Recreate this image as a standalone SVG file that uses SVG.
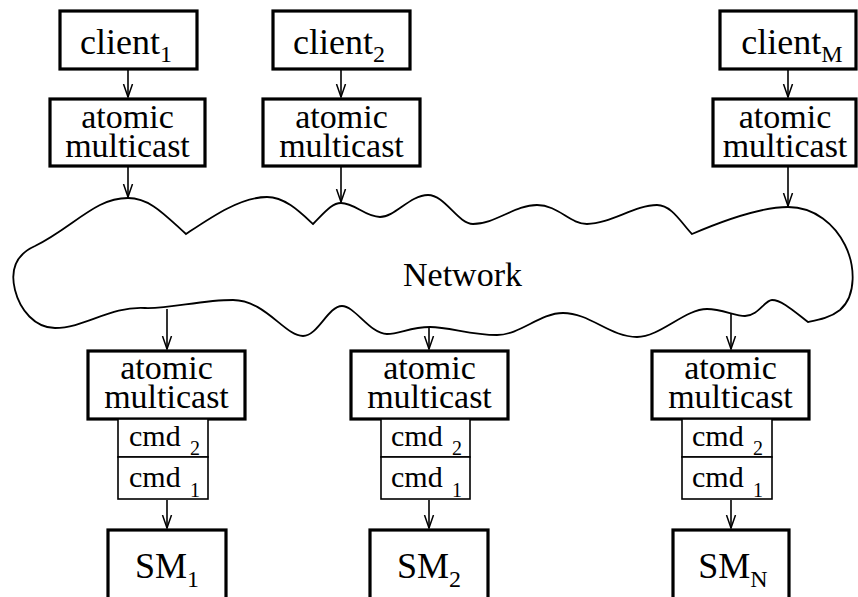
<svg xmlns="http://www.w3.org/2000/svg" width="858" height="597" viewBox="0 0 858 597">
<style>
text{font-family:"Liberation Serif","Times New Roman",serif;fill:#000}
.big{font-size:36px}
.am{font-size:34px}
.cmd{font-size:30px}
.sub{font-size:24px}
.csub{font-size:20px}
.box{fill:#fff;stroke:#000;stroke-width:3.2}
.qbox{fill:#fff;stroke:#000;stroke-width:1.6}
.edge{fill:none;stroke:#000;stroke-width:1.6}
.cloud{fill:#fff;stroke:#000;stroke-width:1.8;stroke-linejoin:miter}
</style>
<defs>
<marker id="ah" markerUnits="userSpaceOnUse" markerWidth="14" markerHeight="12" viewBox="0 0 14 12" refX="13" refY="6" orient="auto">
<path d="M0,1.5 L13,6 L0,10.5" fill="none" stroke="#000" stroke-width="1.5"/>
</marker>
</defs>

<g id="network">
<path class="cloud" d="M128,198 C150,198 165,215 186,234 C210,218 240,197 267,197 C285,197 300,212 313,224 C325,212 332,203 341,203 C355,203 365,217 380,217 C395,217 410,195 428,195 C445,195 458,224 473,224 C495,224 515,205 537,205 C558,205 570,224 587,224 C610,224 635,205 657,205 C672,205 682,224 692,234 C720,222 760,207 788,207 C815,207 835,225 845,245 C855,265 857,295 840,310 C830,318 818,320 808,322 C795,312 782,300 772,300 C765,300 758,316 745,316 C735,316 722,309 707,309 C685,309 660,337 637,337 C610,337 590,313 563,313 C540,313 520,335 497,335 C470,335 450,327 430,327 C410,327 400,334 387,334 C370,334 355,306 342,306 C328,306 318,336 303,336 C285,336 265,300 233,300 C200,300 170,309 145,308 C110,306 85,328 55,328 C35,328 20,310 15,290 C10,270 15,255 35,246 C60,234 80,215 100,205 C110,200 120,198 128,198 Z"/>
<text class="am" x="403" y="286">Network</text>
</g>

<g id="client1">
<rect class="box" x="60" y="11" width="137" height="58"/>
<text class="big" x="126" y="54" text-anchor="middle">client<tspan class="sub" dy="8">1</tspan></text>
</g>
<g id="client2">
<rect class="box" x="273" y="11" width="137" height="58"/>
<text class="big" x="339" y="54" text-anchor="middle">client<tspan class="sub" dy="8">2</tspan></text>
</g>
<g id="clientM">
<rect class="box" x="720" y="11" width="136" height="58"/>
<text class="big" x="792" y="54" text-anchor="middle">client<tspan class="sub" dy="8">M</tspan></text>
</g>

<g id="amcast-c1">
<rect class="box" x="50" y="99" width="155" height="67"/>
<text class="am" x="127.5" y="128" text-anchor="middle">atomic</text>
<text class="am" x="127.5" y="157" text-anchor="middle">multicast</text>
</g>
<g id="amcast-c2">
<rect class="box" x="263" y="99" width="157" height="67"/>
<text class="am" x="341.5" y="128" text-anchor="middle">atomic</text>
<text class="am" x="341.5" y="157" text-anchor="middle">multicast</text>
</g>
<g id="amcast-cM">
<rect class="box" x="713" y="99" width="143" height="67"/>
<text class="am" x="785" y="128" text-anchor="middle">atomic</text>
<text class="am" x="785" y="157" text-anchor="middle">multicast</text>
</g>

<g id="amcast-s1">
<rect class="box" x="88" y="351" width="157" height="68"/>
<text class="am" x="166.5" y="379" text-anchor="middle">atomic</text>
<text class="am" x="166.5" y="408" text-anchor="middle">multicast</text>
</g>
<g id="amcast-s2">
<rect class="box" x="351" y="351" width="157" height="68"/>
<text class="am" x="429.5" y="379" text-anchor="middle">atomic</text>
<text class="am" x="429.5" y="408" text-anchor="middle">multicast</text>
</g>
<g id="amcast-sN">
<rect class="box" x="652" y="351" width="157" height="68"/>
<text class="am" x="730.5" y="379" text-anchor="middle">atomic</text>
<text class="am" x="730.5" y="408" text-anchor="middle">multicast</text>
</g>

<g id="queue1">
<rect class="qbox" x="118" y="419" width="90" height="38"/>
<rect class="qbox" x="118" y="457" width="90" height="42"/>
<text class="cmd" x="129" y="446">cmd <tspan class="csub" x="190" y="455">2</tspan></text>
<text class="cmd" x="129" y="487">cmd <tspan class="csub" x="190" y="497">1</tspan></text>
</g>
<g id="queue2">
<rect class="qbox" x="381" y="419" width="89" height="38"/>
<rect class="qbox" x="381" y="457" width="89" height="42"/>
<text class="cmd" x="391" y="446">cmd <tspan class="csub" x="452" y="455">2</tspan></text>
<text class="cmd" x="391" y="487">cmd <tspan class="csub" x="452" y="497">1</tspan></text>
</g>
<g id="queueN">
<rect class="qbox" x="682" y="419" width="90" height="38"/>
<rect class="qbox" x="682" y="457" width="90" height="42"/>
<text class="cmd" x="692" y="446">cmd <tspan class="csub" x="753" y="455">2</tspan></text>
<text class="cmd" x="692" y="487">cmd <tspan class="csub" x="753" y="497">1</tspan></text>
</g>

<g id="sm1">
<rect class="box" x="108" y="530" width="118" height="80"/>
<text class="big" x="167" y="578" text-anchor="middle">SM<tspan class="sub" dy="9">1</tspan></text>
</g>
<g id="sm2">
<rect class="box" x="370" y="530" width="118" height="80"/>
<text class="big" x="429" y="578" text-anchor="middle">SM<tspan class="sub" dy="9">2</tspan></text>
</g>
<g id="smN">
<rect class="box" x="673" y="530" width="116" height="80"/>
<text class="big" x="733" y="578" text-anchor="middle">SM<tspan class="sub" dy="9">N</tspan></text>
</g>

<g id="connectors">
<line class="edge" x1="128" y1="70" x2="128" y2="97" marker-end="url(#ah)"/>
<line class="edge" x1="341" y1="70" x2="341" y2="97" marker-end="url(#ah)"/>
<line class="edge" x1="788" y1="70" x2="788" y2="97" marker-end="url(#ah)"/>
<line class="edge" x1="128" y1="167" x2="128" y2="197" marker-end="url(#ah)"/>
<line class="edge" x1="341" y1="167" x2="341" y2="202" marker-end="url(#ah)"/>
<line class="edge" x1="788" y1="167" x2="788" y2="206" marker-end="url(#ah)"/>
<line class="edge" x1="167" y1="309" x2="167" y2="349" marker-end="url(#ah)"/>
<line class="edge" x1="429" y1="327" x2="429" y2="349" marker-end="url(#ah)"/>
<line class="edge" x1="731" y1="314" x2="731" y2="349" marker-end="url(#ah)"/>
<line class="edge" x1="167" y1="500" x2="167" y2="528" marker-end="url(#ah)"/>
<line class="edge" x1="429" y1="500" x2="429" y2="528" marker-end="url(#ah)"/>
<line class="edge" x1="731" y1="500" x2="731" y2="528" marker-end="url(#ah)"/>
</g>
</svg>
